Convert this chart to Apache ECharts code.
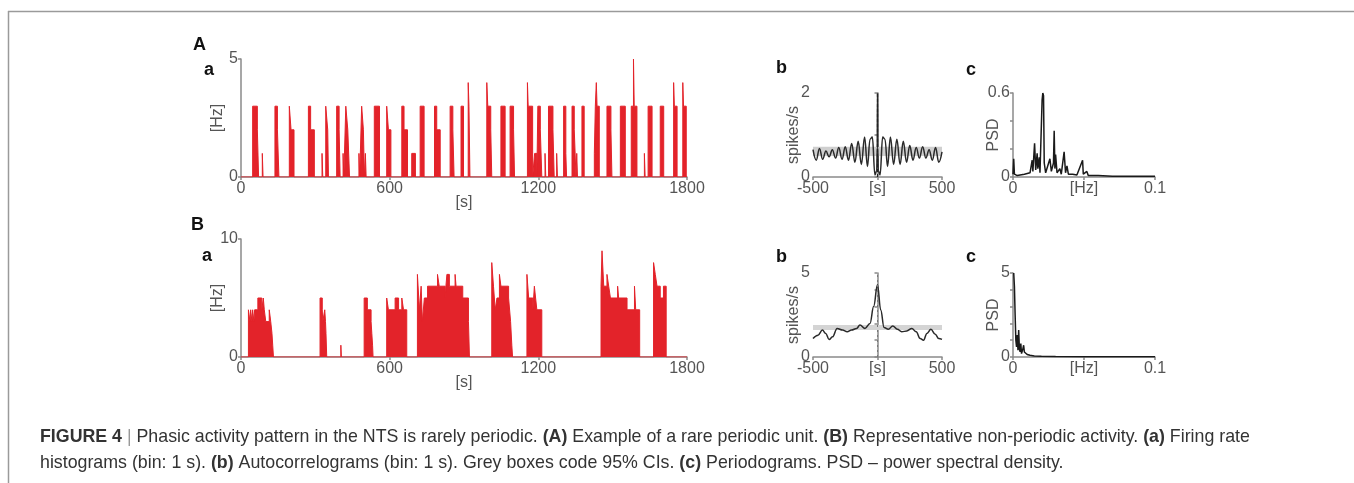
<!DOCTYPE html>
<html>
<head>
<meta charset="utf-8">
<script src="https://cdn.jsdelivr.net/npm/echarts@6/dist/echarts.min.js"></script>
<style>
html,body{margin:0;padding:0;background:#fff;}
#chart{width:1354px;height:483px;}
</style>
</head>
<body>
<div id="chart"></div>
<script>
// ---- DATA ----
// Firing-rate histograms as run-length change points [time s, rate Hz]
const rateA = [[0,0],
[47,3],[66,2],[71,0],[86,1],[89,0],
[137,3],[147,2],[153,0],[195,3],[202,2],[214,0],
[272,3],[281,2],[296,0],[327,1],[330,0],
[342,3],[350,2],[353,0],[386,3],[396,2],[400,0],[412,1],[415,0],
[423,3],[431,2],[438,0],[476,1],[479,0],[487,3],[494,2],[498,0],[502,1],[505,0],
[538,3],[559,0],[588,3],[595,2],[605,0],[649,3],[658,2],[672,0],[689,1],[704,0],
[723,3],[739,0],[781,3],[790,2],[804,0],[844,3],[855,2],[860,0],[888,3],[898,0],
[917,4],[920,3],[924,0],[992,4],[996,3],[1008,2],[1012,0],[1049,3],[1066,0],
[1086,3],[1100,2],[1104,0],[1156,4],[1159,3],[1177,0],[1185,1],[1194,0],
[1198,3],[1208,2],[1214,0],[1227,1],[1230,0],[1241,3],[1259,2],[1264,0],[1274,1],[1277,0],
[1302,3],[1311,1],[1314,0],[1336,3],[1345,2],[1352,0],[1355,1],[1358,0],[1376,3],[1385,0],
[1426,1],[1430,3],[1434,4],[1437,3],[1446,0],[1477,3],[1493,2],[1497,0],[1531,3],[1551,0],
[1575,3],[1584,5],[1587,3],[1598,0],[1628,1],[1631,0],[1643,3],[1659,0],[1692,3],[1706,0],
[1746,4],[1749,3],[1760,0],[1783,4],[1786,3],[1797,0],[1800,0]];

const rateB = [[0,0],
[30,4],[36,3],[39,4],[44,3],[47,4],[52,3],[55,4],[68,5],[84,4],[90,5],[94,4],[100,3],[114,4],[120,3],[125,2],[128,1],[131,0],
[319,5],[328,4],[330,3],[338,4],[341,3],[343,2],[346,0],[403,1],[405,0],
[497,5],[510,4],[525,3],[528,2],[531,1],[533,0],
[588,5],[595,4],[622,5],[636,4],[649,5],[656,4],[669,0],
[712,7],[720,4],[727,6],[732,3],[740,5],[753,6],[793,7],[800,6],[824,5],[827,6],[831,7],[841,6],[864,7],[868,6],[895,5],[918,3],[922,0],
[1012,8],[1019,6],[1026,4],[1033,5],[1043,7],[1049,6],[1080,5],[1088,3],[1093,1],[1096,0],
[1154,7],[1161,5],[1178,4],[1184,6],[1189,5],[1194,4],[1214,0],
[1453,6],[1457,9],[1464,6],[1477,7],[1484,6],[1491,5],[1520,6],[1524,5],[1558,4],[1588,6],[1593,4],[1609,0],
[1665,8],[1672,7],[1679,6],[1692,5],[1705,6],[1716,0],[1800,0]];

// Autocorrelograms [lag s, spikes/s]
const acA = [[-500,0.65],[-475,0.4],[-450,0.68],[-425,0.42],[-400,0.62],[-375,0.48],[-350,0.65],[-325,0.45],
[-300,0.7],[-275,0.42],[-250,0.72],[-225,0.4],[-200,0.8],[-175,0.35],[-150,0.85],[-125,0.3],[-100,0.95],
[-78,0.25],[-58,0.9],[-40,0.95],[-20,0.05],[-6,0.15],[-2,0.7],[0,2.0],[2,0.7],[6,0.15],[20,0.05],[40,0.95],
[58,0.9],[78,0.25],[100,0.95],[125,0.3],[150,0.9],[175,0.3],[200,0.85],[225,0.35],[250,0.75],[275,0.4],
[300,0.7],[325,0.45],[350,0.72],[375,0.45],[400,0.65],[425,0.4],[450,0.7],[475,0.35],[500,0.6]];
const ciA = [0.5, 0.72];

const acB = [[-500,1.1],[-461,1.3],[-427,1.6],[-401,1.4],[-375,1.04],[-349,1.2],[-313,1.7],[-271,1.6],
[-235,1.5],[-201,1.6],[-162,1.7],[-136,1.9],[-97,1.7],[-58,2.0],[-30,3.0],[0,4.3],[25,2.8],[51,1.75],
[84,1.65],[118,1.85],[154,1.65],[188,1.5],[227,1.55],[266,1.7],[300,1.5],[331,1.1],[357,1.0],[383,1.4],
[414,1.65],[448,1.35],[474,1.1],[500,1.05]];
const ciB = [1.6, 1.9];

// Periodograms [Hz, PSD]
const psdA = [[0,0.02],[0.0005,0.13],[0.001,0.02],[0.003,0.01],[0.008,0.02],[0.012,0.03],[0.0135,0.12],[0.014,0.04],
[0.0152,0.24],[0.016,0.05],[0.017,0.17],[0.0175,0.06],[0.0185,0.14],[0.019,0.03],[0.0205,0.55],[0.021,0.6],
[0.0215,0.58],[0.022,0.1],[0.023,0.03],[0.0245,0.08],[0.026,0.13],[0.027,0.04],[0.0285,0.1],[0.029,0.33],
[0.0295,0.06],[0.030,0.16],[0.031,0.03],[0.033,0.06],[0.034,0.02],[0.036,0.18],[0.037,0.03],[0.038,0.08],
[0.039,0.02],[0.042,0.02],[0.045,0.015],[0.049,0.12],[0.0495,0.02],[0.052,0.04],[0.053,0.01],[0.06,0.01],
[0.07,0.005],[0.1,0.005]];
const psdB = [[0.0005,5.0],[0.001,4.2],[0.0015,2.5],[0.002,1.0],[0.0025,0.6],[0.003,1.3],[0.0035,0.4],[0.004,1.6],
[0.0045,0.5],[0.005,0.3],[0.0055,0.8],[0.006,0.2],[0.007,0.5],[0.0075,0.7],[0.008,0.3],[0.009,0.2],[0.01,0.15],
[0.012,0.1],[0.015,0.06],[0.02,0.04],[0.03,0.03],[0.05,0.02],[0.07,0.02],[0.1,0.02]];

// ---- STYLE ----
const AX = '#8a8a8a', LBL = '#555', RED = '#e3232a';
const FONT = 'Liberation Sans, Arial, sans-serif';

function axisBase(){
  return {
    axisLine:{show:true, lineStyle:{color:AX, width:1.5}},
    axisTick:{show:true, length:3, lineStyle:{color:AX, width:1.5}},
    splitLine:{show:false},
    nameMoveOverlap:false,
    axisLabel:{color:LBL, fontSize:16, fontFamily:FONT, margin:3},
    nameTextStyle:{color:LBL, fontSize:16, fontFamily:FONT}
  };
}
function near(a,b){return Math.abs(a-b)<1e-9;}

const grids = [
  {left:241, top:59, width:446, height:118},
  {left:813, top:93, width:129, height:84},
  {left:1013, top:93, width:142, height:84},
  {left:241, top:239, width:446, height:118},
  {left:813, top:273, width:129, height:84},
  {left:1013, top:273, width:142, height:84}
];

function xTime(i){
  const a = Object.assign(axisBase(), {type:'value', gridIndex:i, min:0, max:1800, interval:600,
    name:'[s]', nameLocation:'middle', nameGap:16, offset:1.5});
  a.axisLabel = Object.assign(a.axisLabel, {margin:2, formatter:v=>String(Math.round(v))});
  return a;
}
function xLag(i){
  const a = Object.assign(axisBase(), {type:'value', gridIndex:i, min:-500, max:500, interval:500, offset:3});
  a.axisLabel = Object.assign(a.axisLabel, {margin:1, formatter:v=> near(v,0)?'[s]':String(Math.round(v))});
  return a;
}
function xHz(i){
  const a = Object.assign(axisBase(), {type:'value', gridIndex:i, min:0, max:0.1, interval:0.05, offset:3});
  a.axisLabel = Object.assign(a.axisLabel, {margin:1, formatter:v=> near(v,0)?'0':(near(v,0.05)?'[Hz]':'0.1')});
  return a;
}
function yAx(i, max, interval, name, gap){
  const a = Object.assign(axisBase(), {type:'value', gridIndex:i, min:0, max:max, interval:interval,
    name:name, nameLocation:'middle', nameRotate:90, nameGap:gap});
  a.axisLabel = Object.assign(a.axisLabel, {margin:3, formatter:v=> (near(v,0)||near(v,max))?String(+v.toFixed(2)):''});
  return a;
}

const option = {
  backgroundColor:'#fff',
  animation:false,
  grid: grids,
  xAxis:[xTime(0), xLag(1), xHz(2), xTime(3), xLag(4), xHz(5)],
  yAxis:[
    yAx(0,5,5,'[Hz]',15),
    yAx(1,2,1,'spikes/s',11),
    yAx(2,0.6,0.2,'PSD',11),
    yAx(3,10,10,'[Hz]',15),
    yAx(4,5,1,'spikes/s',11),
    yAx(5,5,1,'PSD',11)
  ],
  series:[
    {type:'line', xAxisIndex:0, yAxisIndex:0, data:rateA, step:'end', symbol:'none',
     lineStyle:{color:RED, width:1}, areaStyle:{color:RED, opacity:1}},
    {type:'line', xAxisIndex:3, yAxisIndex:3, data:rateB, step:'end', symbol:'none',
     lineStyle:{color:RED, width:1}, areaStyle:{color:RED, opacity:1}},
    {type:'line', xAxisIndex:1, yAxisIndex:1, data:acA, symbol:'none', smooth:0.4, smoothMonotone:'x',
     lineStyle:{color:'#2a2a2a', width:1.5},
     markArea:{silent:true, itemStyle:{color:'#cfcfcf'}, data:[[{yAxis:ciA[0]},{yAxis:ciA[1]}]]},
     markLine:{silent:true, symbol:'none', label:{show:false}, lineStyle:{color:'#222', type:[3,2], width:1.2}, data:[{xAxis:0}]}},
    {type:'line', xAxisIndex:4, yAxisIndex:4, data:acB, symbol:'none', smooth:0.4, smoothMonotone:'x',
     lineStyle:{color:'#2a2a2a', width:1.5},
     markArea:{silent:true, itemStyle:{color:'#d4d4d4'}, data:[[{yAxis:ciB[0]},{yAxis:ciB[1]}]]},
     markLine:{silent:true, symbol:'none', label:{show:false}, lineStyle:{color:'#777', type:[2,3], width:1}, data:[{xAxis:0}]}},
    {type:'line', xAxisIndex:2, yAxisIndex:2, data:psdA, symbol:'none',
     lineStyle:{color:'#1a1a1a', width:1.5}},
    {type:'line', xAxisIndex:5, yAxisIndex:5, data:psdB, symbol:'none',
     lineStyle:{color:'#1a1a1a', width:1.5}}
  ],
  graphic:[
    {type:'line', shape:{x1:8, y1:11.5, x2:1354, y2:11.5}, style:{stroke:'#9a9a9a', lineWidth:1.5}},
    {type:'line', shape:{x1:8.5, y1:11, x2:8.5, y2:483}, style:{stroke:'#9a9a9a', lineWidth:1.5}},
    {type:'text', x:193, y:36, style:{text:'A', font:'bold 18px '+FONT, fill:'#111'}},
    {type:'text', x:204, y:61, style:{text:'a', font:'bold 18px '+FONT, fill:'#111'}},
    {type:'text', x:776, y:59, style:{text:'b', font:'bold 18px '+FONT, fill:'#111'}},
    {type:'text', x:966, y:61, style:{text:'c', font:'bold 18px '+FONT, fill:'#111'}},
    {type:'text', x:191, y:216, style:{text:'B', font:'bold 18px '+FONT, fill:'#111'}},
    {type:'text', x:202, y:247, style:{text:'a', font:'bold 18px '+FONT, fill:'#111'}},
    {type:'text', x:776, y:248, style:{text:'b', font:'bold 18px '+FONT, fill:'#111'}},
    {type:'text', x:966, y:248, style:{text:'c', font:'bold 18px '+FONT, fill:'#111'}},
    {type:'text', x:40, y:428, style:{
      text:'{b|FIGURE 4} {s||} Phasic activity pattern in the NTS is rarely periodic. {b|(A)} Example of a rare periodic unit. {b|(B)} Representative non-periodic activity. {b|(a)} Firing rate',
      font:'17.8px '+FONT, fill:'#333',
      rich:{b:{fontWeight:'bold', fontSize:17.8, fontFamily:FONT, fill:'#333'}, s:{fontSize:17.8, fontFamily:FONT, fill:'#999'}}}},
    {type:'text', x:40, y:454, style:{
      text:'histograms (bin: 1 s). {b|(b)} Autocorrelograms (bin: 1 s). Grey boxes code 95% CIs. {b|(c)} Periodograms. PSD – power spectral density.',
      font:'17.8px '+FONT, fill:'#333',
      rich:{b:{fontWeight:'bold', fontSize:17.8, fontFamily:FONT, fill:'#333'}}}}
  ]
};
const chart = echarts.init(document.getElementById('chart'), null, {renderer:'canvas'});
chart.setOption(option);
</script>
</body>
</html>
